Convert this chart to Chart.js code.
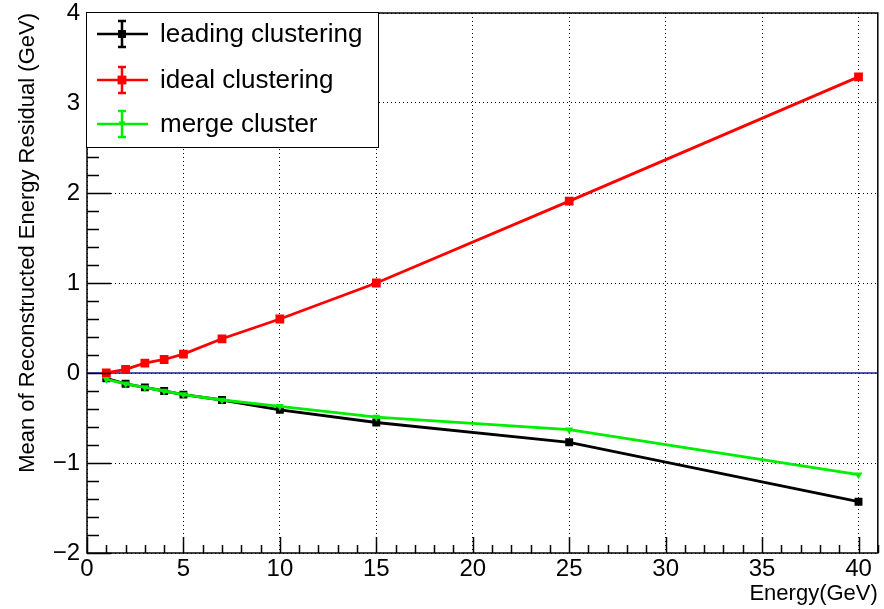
<!DOCTYPE html>
<html>
<head>
<meta charset="utf-8">
<script src="https://cdn.jsdelivr.net/npm/chart.js@4.4.1/dist/chart.umd.min.js"></script>
<style>
  html, body { margin: 0; padding: 0; background: #fff; }
  #wrap { width: 884px; height: 609px; }
</style>
</head>
<body>
<div id="wrap"><canvas id="c" width="884" height="609"></canvas></div>
<script>
// Beam energies (GeV) and mean residuals for each clustering method
const energies = [1, 2, 3, 4, 5, 7, 10, 15, 25, 40];
const leadingClustering = [-0.06, -0.12, -0.16, -0.20, -0.24, -0.30, -0.41, -0.55, -0.77, -1.43];
const idealClustering   = [0.00, 0.04, 0.11, 0.15, 0.21, 0.38, 0.60, 1.00, 1.91, 3.29];
const mergeCluster      = [-0.07, -0.12, -0.16, -0.20, -0.24, -0.30, -0.37, -0.49, -0.63, -1.13];
const zeroLineX = [0, 41];
const zeroLineY = [0, 0];

const xTicks = [0, 5, 10, 15, 20, 25, 30, 35, 40];
const yTicks = [-2, -1, 0, 1, 2, 3, 4];

const FONT = '"Liberation Sans", Arial, Helvetica, sans-serif';

const pts = (xs, ys) => xs.map((x, i) => ({ x, y: ys[i] }));
const fmt = v => String(v).replace('-', '\u2212');

// Frame plus ROOT-style inner tick marks (major and minor)
const framePlugin = {
  id: 'frame',
  afterDatasetsDraw(chart) {
    const { ctx, chartArea: a, scales: { x, y } } = chart;
    ctx.save();
    ctx.strokeStyle = '#000';
    ctx.lineWidth = 1.5;
    ctx.setLineDash([]);
    ctx.beginPath();
    for (let v = 0; v <= 41; v += 1) {
      const px = Math.round(x.getPixelForValue(v)) + 0.5;
      const len = (v % 5 === 0) ? 16 : 8;
      ctx.moveTo(px, a.bottom);
      ctx.lineTo(px, a.bottom - len);
    }
    for (let i = 0; i <= 30; i++) {
      const v = -2 + i * 0.2;
      const py = Math.round(y.getPixelForValue(v)) + 0.5;
      const len = (i % 5 === 0) ? 24 : 12;
      ctx.moveTo(a.left, py);
      ctx.lineTo(a.left + len, py);
    }
    ctx.stroke();
    ctx.strokeRect(a.left, a.top, a.right - a.left, a.bottom - a.top);
    ctx.restore();
  }
};

// Legend box with line + error-bar + marker symbols
const legendPlugin = {
  id: 'rootLegend',
  afterDraw(chart) {
    const { ctx } = chart;
    const box = { l: 86.5, t: 12.5, r: 378.5, b: 147.5 };
    const rows = [34, 80, 124];
    const entries = [0, 1, 2].map(i => chart.data.datasets[i]);
    ctx.save();
    ctx.fillStyle = '#fff';
    ctx.fillRect(box.l, box.t, box.r - box.l, box.b - box.t);
    ctx.strokeStyle = '#000';
    ctx.lineWidth = 1;
    ctx.strokeRect(box.l, box.t, box.r - box.l, box.b - box.t);
    entries.forEach((ds, i) => {
      const cy = rows[i];
      const cx = 122;
      ctx.strokeStyle = ds.borderColor;
      ctx.fillStyle = ds.borderColor;
      ctx.lineWidth = 2.5;
      ctx.beginPath();
      ctx.moveTo(97, cy); ctx.lineTo(148, cy);
      ctx.moveTo(cx, cy - 13); ctx.lineTo(cx, cy + 13);
      ctx.moveTo(cx - 4, cy - 13); ctx.lineTo(cx + 4, cy - 13);
      ctx.moveTo(cx - 4, cy + 13); ctx.lineTo(cx + 4, cy + 13);
      ctx.stroke();
      if (ds.pointStyle === 'triangle') {
        ctx.beginPath();
        ctx.moveTo(cx - 3.5, cy - 2.5);
        ctx.lineTo(cx + 3.5, cy - 2.5);
        ctx.lineTo(cx, cy + 3.5);
        ctx.closePath();
        ctx.fill();
      } else {
        const s = ds.pointRadius * Math.SQRT1_2;
        ctx.fillRect(cx - s, cy - s, 2 * s, 2 * s);
      }
      ctx.fillStyle = '#000';
      ctx.font = '26px ' + FONT;
      ctx.textBaseline = 'middle';
      ctx.textAlign = 'left';
      ctx.fillText(ds.label, 160, cy + 1);
    });
    ctx.restore();
  }
};

const lineDs = (label, data, color, style, radius, order) => ({
  label, data, order,
  showLine: true,
  borderColor: color,
  backgroundColor: color,
  borderWidth: 2.8,
  pointStyle: style,
  pointRadius: radius,
  pointRotation: style === 'triangle' ? 180 : 0,
  pointBorderWidth: 0,
  pointHoverRadius: radius,
  tension: 0
});

new Chart(document.getElementById('c'), {
  type: 'scatter',
  data: {
    datasets: [
      lineDs('leading clustering', pts(energies, leadingClustering), '#000000', 'rect', 5.6, 2),
      lineDs('ideal clustering', pts(energies, idealClustering), '#ff0000', 'rect', 6.2, 1),
      lineDs('merge cluster', pts(energies, mergeCluster), '#00ee00', 'triangle', 4.5, 0),
      {
        label: 'zero', data: pts(zeroLineX, zeroLineY), order: 3,
        showLine: true, borderColor: '#1a1aa6', borderWidth: 1.6,
        pointRadius: 0, pointHoverRadius: 0
      }
    ]
  },
  options: {
    responsive: false,
    animation: false,
    events: [],
    layout: { padding: { top: 13, right: 6, left: 0, bottom: 0 } },
    plugins: { legend: { display: false }, tooltip: { enabled: false } },
    scales: {
      x: {
        type: 'linear', min: 0, max: 41,
        afterBuildTicks: s => { s.ticks = xTicks.map(v => ({ value: v })); },
        afterFit: s => { s.height = 56; s.paddingLeft = 0; s.paddingRight = 0; },
        grid: { color: '#000', lineWidth: 1, drawTicks: false },
        border: { display: false, dash: [1, 3] },
        ticks: { color: '#000', font: { family: FONT, size: 24 }, padding: 2, maxRotation: 0, callback: fmt },
        title: {
          display: true, text: 'Energy(GeV)', align: 'end', color: '#000',
          font: { family: FONT, size: 22 }, padding: { top: 0, bottom: 2 }
        }
      },
      y: {
        type: 'linear', min: -2, max: 4,
        afterBuildTicks: s => { s.ticks = yTicks.map(v => ({ value: v })); },
        afterFit: s => { s.width = 87; s.paddingTop = 0; s.paddingBottom = 0; },
        grid: { color: '#000', lineWidth: 1, drawTicks: false },
        border: { display: false, dash: [1, 3] },
        ticks: { color: '#000', font: { family: FONT, size: 24 }, padding: 7, callback: fmt },
        title: {
          display: true, text: 'Mean of Reconstructed Energy Residual (GeV)', align: 'end', color: '#000',
          font: { family: FONT, size: 22 }, padding: { top: 15, bottom: 0 }
        }
      }
    }
  },
  plugins: [framePlugin, legendPlugin]
});
</script>
</body>
</html>
